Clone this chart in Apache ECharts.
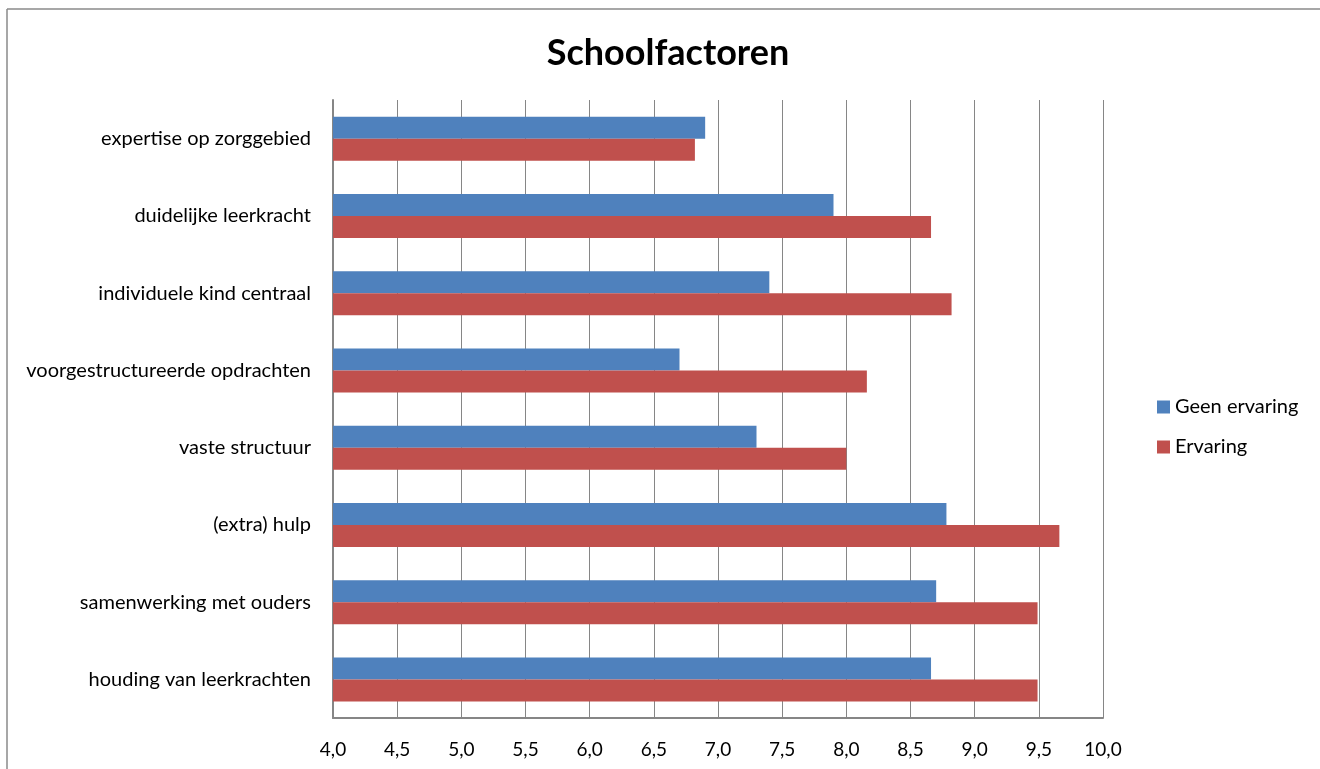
<!DOCTYPE html>
<html>
<head>
<meta charset="utf-8">
<script src="https://cdn.jsdelivr.net/npm/echarts@6/dist/echarts.min.js"></script>
<style>
html,body{margin:0;padding:0;background:#fff;}
#chart{width:1320px;height:769px;}
</style>
</head>
<body>
<div id="chart"></div>
<script>
const categories = [
  "expertise op zorggebied",
  "duidelijke leerkracht",
  "individuele kind centraal",
  "voorgestructureerde opdrachten",
  "vaste structuur",
  "(extra) hulp",
  "samenwerking met ouders",
  "houding van leerkrachten"
];
const geenErvaring = [6.90, 7.90, 7.40, 6.70, 7.30, 8.78, 8.70, 8.66];
const ervaring = [6.82, 8.66, 8.82, 8.16, 8.00, 9.66, 9.49, 9.49];
const seriesNames = ["Geen ervaring", "Ervaring"];

const FONT = "Lato, 'Open Sans', sans-serif";
const chart = echarts.init(document.getElementById('chart'), null, {renderer: 'canvas'});
chart.setOption({
  animation: false,
  backgroundColor: '#ffffff',
  textStyle: {fontFamily: FONT},
  title: {
    text: 'Schoolfactoren',
    left: 663, top: 30, textAlign: 'center',
    textStyle: {fontFamily: FONT, fontSize: 36, fontWeight: 'bold', color: '#000'}
  },
  graphic: [
    {type: 'line', silent: true, shape: {x1: 7, y1: 9, x2: 1320, y2: 9},
     style: {stroke: '#8a8a8a', lineWidth: 1.5}},
    {type: 'line', silent: true, shape: {x1: 7, y1: 9, x2: 7, y2: 769},
     style: {stroke: '#8a8a8a', lineWidth: 1.5}}
  ],
  legend: {
    orient: 'vertical', left: 1152, top: 392,
    itemWidth: 13, itemHeight: 13, itemGap: 20,
    icon: 'rect',
    textStyle: {fontFamily: FONT, fontSize: 20, color: '#000'},
    data: seriesNames
  },
  grid: {left: 333, right: 217, top: 100, bottom: 51, containLabel: false},
  xAxis: {
    type: 'value', min: 4, max: 10, interval: 0.5,
    axisLine: {show: true, lineStyle: {color: '#868686', width: 2}},
    axisTick: {show: false},
    splitLine: {show: true, lineStyle: {color: '#868686', width: 1}},
    axisLabel: {
      margin: 22, fontFamily: FONT, fontSize: 19, color: '#000',
      formatter: v => v.toFixed(1).replace('.', ',')
    }
  },
  yAxis: {
    type: 'category', data: categories, inverse: true,
    axisLine: {show: true, lineStyle: {color: '#868686', width: 2}},
    axisTick: {show: false},
    axisLabel: {margin: 22, fontFamily: FONT, fontSize: 20, color: '#000'}
  },
  series: [
    {name: seriesNames[0], type: 'bar', data: geenErvaring, barWidth: 22, barGap: '0%',
     itemStyle: {color: '#4F81BD'}},
    {name: seriesNames[1], type: 'bar', data: ervaring, barWidth: 22, barGap: '0%',
     itemStyle: {color: '#C0504D'}}
  ]
});
</script>
</body>
</html>
